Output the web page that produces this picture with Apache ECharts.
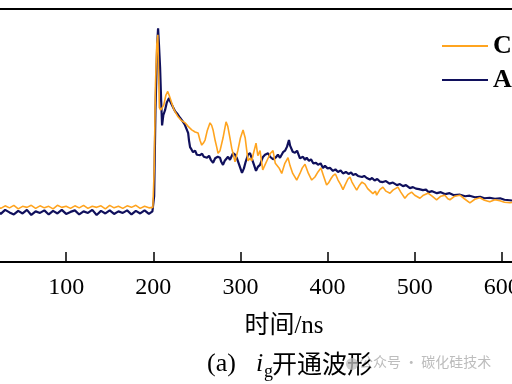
<!DOCTYPE html>
<html>
<head>
<meta charset="utf-8">
<script src="https://cdn.jsdelivr.net/npm/echarts@6/dist/echarts.min.js"></script>
<style>
  html, body { margin: 0; padding: 0; background: #fff; }
  #chart { width: 512px; height: 384px; }
</style>
</head>
<body>
<div id="chart"></div>
<script>
// x tick labels (ns)
const xTicks = [0, 100, 200, 300, 400, 500, 600, 700]

// CGD (orange) - time in ns, current in A
const tCGD = [
  20, 25, 30, 35, 40, 45, 50, 55, 60, 65, 70, 75, 80, 85, 90, 95, 100, 105,
  110, 115, 120, 125, 130, 135, 140, 145, 150, 155, 160, 165, 170, 175, 180, 185, 190, 195,
  199.5, 201, 202.5, 204, 205.2, 206, 207, 208.5, 210, 212, 214.5, 216.6, 218.5, 221.2,
  224, 228.4, 232, 236.5, 240, 244.1, 248, 251.4, 253.7, 255.6, 257.5, 259.4, 262, 265.1,
  267, 268.6, 271, 272.8, 274.3, 276.6, 280, 283.5, 285.5, 288, 290, 293.8, 297, 300,
  303, 305.5, 308.7, 311, 313, 315, 317.9, 320, 322.5, 325.6, 328.2, 331.7, 334.5, 337.4,
  340, 344.3, 347.4, 351, 354.6, 357, 360, 364.6, 368.3, 371, 374.1, 378, 381.8, 385.5,
  389, 392.4, 395, 398.9, 401, 404, 406, 409, 412, 415, 417.7, 420, 423.4, 425.7, 428,
  431, 433.4, 436, 439.5, 442.9, 446, 449, 452, 455, 456.3, 460, 463.5, 467, 471.6, 475,
  480.7, 484, 488.7, 492, 496.4, 500, 506, 510, 515.2, 520, 525.1, 530, 534.6, 538, 540.4,
  546, 551.8, 557, 563.3, 569, 574.8, 580, 586.2, 592, 597.7, 603, 609.2, 615
]
const vCGD = [
  0.10, 0.06, 0.11, 0.07, 0.12, 0.05, 0.10, 0.08, 0.12, 0.06, 0.11, 0.07, 0.10, 0.05,
  0.12, 0.08, 0.10, 0.06, 0.11, 0.07, 0.12, 0.06, 0.10, 0.08, 0.11, 0.05, 0.12, 0.07,
  0.10, 0.06, 0.11, 0.08, 0.12, 0.06, 0.10, 0.07,
  0.08, 0.8, 2.5, 3.3, 3.49, 2.8, 2.05, 2.0, 2.02, 2.1, 2.3, 2.37, 2.28, 2.14,
  2.0, 1.87, 1.80, 1.75, 1.68, 1.61, 1.57, 1.55, 1.4, 1.31, 1.35, 1.41, 1.6, 1.75,
  1.70, 1.61, 1.4, 1.27, 1.15, 1.20, 1.45, 1.77, 1.68, 1.45, 1.25, 0.98, 1.2, 1.45,
  1.61, 1.45, 1.0, 1.05, 1.0, 1.15, 1.35, 1.1, 1.2, 0.82, 0.92, 1.05, 1.15, 1.2,
  0.95, 0.86, 0.75, 0.95, 1.06, 0.9, 0.75, 0.62, 0.75, 0.86, 0.93, 0.75, 0.62, 0.68,
  0.78, 0.86, 0.72, 0.52, 0.56, 0.65, 0.70, 0.74, 0.62, 0.53, 0.43, 0.52, 0.64, 0.68, 0.58,
  0.49, 0.42, 0.50, 0.58, 0.54, 0.45, 0.40, 0.35, 0.40, 0.32, 0.43, 0.48, 0.40, 0.36, 0.42,
  0.48, 0.38, 0.26, 0.33, 0.38, 0.32, 0.26, 0.32, 0.36, 0.30, 0.23, 0.30, 0.32, 0.25, 0.23,
  0.30, 0.32, 0.25, 0.17, 0.24, 0.27, 0.22, 0.19, 0.23, 0.21, 0.18, 0.17, 0.19
]

// AGD (navy)
const tAGD = [
  20, 25, 30, 35, 40, 45, 50, 55, 60, 65, 70, 75, 80, 85, 90, 95, 100, 105,
  110, 115, 120, 125, 130, 135, 140, 145, 150, 155, 160, 165, 170, 175, 180, 185, 190, 195,
  199, 201, 202.5, 204.5, 205.5, 206.5, 207.8, 209, 210.1, 211.5, 213.5, 215.5, 218.1, 220,
  222.7, 225, 228, 230.7, 233, 236, 238.8, 240, 241, 242.2, 244, 245.6, 248, 250, 251.4,
  253.7, 256, 258, 261.7, 264, 266, 268.6, 271, 274, 276.6, 278, 280, 282, 285.8, 288,
  291.5, 293.8, 296, 298, 300, 301.8, 304, 306, 308.7, 311, 313, 315, 317.9, 320, 322.5,
  325.6, 328.2, 331.7, 334, 337.4, 340.8, 343, 345.4, 348.9, 351.2, 353.5, 355.7, 357, 358,
  360, 362.6, 365, 368.3, 371.8, 374.1, 376, 378.7, 381, 383.5, 386.7, 389, 392, 394.7,
  397, 400, 403, 406.2, 409, 412, 415, 417.7, 421, 424, 427, 429.1, 432, 434.9, 437,
  439.5, 442, 445, 448.6, 451, 454, 457, 460, 463.5, 467, 471, 475, 479.6, 483, 486.5,
  490, 494.5, 498, 501.4, 505, 509.4, 513, 516, 520, 525.5, 530, 535, 540, 545, 552,
  558, 563, 569, 575, 580, 586, 592, 598, 603, 609, 615
]
const vAGD = [
  0.02, -0.05, 0.03, -0.02, -0.06, 0.01, -0.04, 0.03, -0.07, 0.00, -0.03, 0.02, -0.06, 0.01,
  -0.04, 0.03, -0.05, -0.01, 0.02, -0.06, 0.00, -0.03, 0.03, -0.07, 0.01, -0.04, 0.02, -0.05,
  0.00, -0.03, 0.02, -0.06, 0.01, -0.04, 0.02, -0.05,
  0.0, 0.3, 2.0, 3.3, 3.62, 3.3, 2.85, 2.2, 1.7, 1.9, 2.0, 2.15, 2.24, 2.15,
  2.06, 1.98, 1.92, 1.85, 1.80, 1.72, 1.6, 1.55, 1.40, 1.27, 1.22, 1.17, 1.2, 1.12, 1.15,
  1.11, 1.14, 1.08, 1.06, 1.1, 1.02, 0.96, 1.05, 1.08, 1.06, 0.98, 0.92, 1.0, 1.08, 1.02,
  1.15, 1.12, 1.05, 0.95, 0.85, 0.76, 0.85, 0.98, 1.12, 1.15, 1.05, 0.95, 0.80, 0.88, 0.92,
  1.07, 1.12, 1.15, 1.08, 1.03, 1.07, 1.12, 1.06, 1.17, 1.2, 1.28, 1.41, 1.30, 1.28,
  1.18, 1.16, 1.2, 1.05, 1.08, 1.02, 1.06, 1.0, 1.03, 0.95, 0.96, 0.92, 0.95, 0.86,
  0.9, 0.85, 0.86, 0.80, 0.83, 0.78, 0.81, 0.75, 0.78, 0.74, 0.77, 0.72, 0.74, 0.70, 0.73,
  0.68, 0.70, 0.66, 0.63, 0.66, 0.61, 0.64, 0.59, 0.58, 0.60, 0.55, 0.57, 0.52, 0.54, 0.50,
  0.52, 0.46, 0.48, 0.45, 0.44, 0.42, 0.43, 0.38, 0.40, 0.36, 0.38, 0.34, 0.36, 0.32, 0.33,
  0.30, 0.31, 0.28, 0.29, 0.26, 0.27, 0.25, 0.26, 0.23, 0.22, 0.21
]

const serif = '"Liberation Serif", "Noto Sans CJK SC", serif'
const zip = (t, v) => t.map((x, i) => [x, v[i]])

const chart = echarts.init(document.getElementById('chart'))
chart.setOption({
  animation: false,
  backgroundColor: '#fff',
  grid: {
    left: -21,
    top: 9,
    width: 610,
    height: 253,
    containLabel: false,
    outerBoundsMode: 'none'
  },
  legend: {
    orient: 'vertical',
    left: 442,
    top: 33,
    padding: 0,
    icon: 'rect',
    itemWidth: 46,
    itemHeight: 2,
    itemGap: 8,
    textStyle: {
      fontFamily: serif,
      fontSize: 26,
      fontWeight: 'bold',
      color: '#000'
    },
    data: ['CGD', 'AGD']
  },
  xAxis: [
    {
      type: 'value',
      min: xTicks[0],
      max: xTicks[xTicks.length - 1],
      interval: 100,
      name: '时间/ns',
      nameLocation: 'middle',
      nameGap: 52,
      nameTextStyle: { fontFamily: serif, fontSize: 25, color: '#000' },
      axisLine: { onZero: false, lineStyle: { color: '#000', width: 2 } },
      axisTick: { inside: true, length: 10, lineStyle: { color: '#000', width: 1.5 } },
      axisLabel: { fontFamily: serif, fontSize: 24, color: '#000', margin: 14 },
      splitLine: { show: false }
    },
    {
      type: 'value',
      position: 'top',
      min: xTicks[0],
      max: xTicks[xTicks.length - 1],
      axisLine: { onZero: false, lineStyle: { color: '#000', width: 2 } },
      axisTick: { show: false },
      axisLabel: { show: false },
      splitLine: { show: false }
    }
  ],
  yAxis: {
    type: 'value',
    min: -1,
    max: 4,
    axisLine: { show: true, lineStyle: { color: '#000', width: 2 } },
    axisTick: { show: false },
    axisLabel: { show: false },
    splitLine: { show: false }
  },
  series: [
    {
      name: 'CGD',
      type: 'line',
      symbol: 'none',
      data: zip(tCGD, vCGD),
      lineStyle: { color: '#FFA41F', width: 1.6 },
      itemStyle: { color: '#FFA41F' },
      z: 3
    },
    {
      name: 'AGD',
      type: 'line',
      symbol: 'none',
      data: zip(tAGD, vAGD),
      lineStyle: { color: '#10105C', width: 2.2 },
      itemStyle: { color: '#10105C' },
      z: 2
    }
  ],
  graphic: [
    { type: 'text', left: 359, top: 355, z: 1, style: { text: '公众号 · 碳化硅技术', font: '14px "Noto Sans CJK SC"', fill: '#bdbdbd' } },
    { type: 'text', left: 207, top: 351, z: 5, style: { text: '(a)', font: '26px "Liberation Serif"', fill: '#000' } },
    { type: 'text', left: 256, top: 351, z: 5, style: { text: 'i', font: 'italic 26px "Liberation Serif"', fill: '#000' } },
    { type: 'text', left: 264, top: 363, z: 5, style: { text: 'g', font: '18px "Liberation Serif"', fill: '#000' } },
    { type: 'text', left: 272, top: 351, z: 5, style: { text: '开通波形', font: '25px "Noto Sans CJK SC"', fill: '#000' } },
    { type: 'circle', shape: { cx: 352, cy: 364, r: 6 }, style: { fill: 'rgba(190,190,190,0.75)' }, z: 6 }
  ]
})
</script>
</body>
</html>
